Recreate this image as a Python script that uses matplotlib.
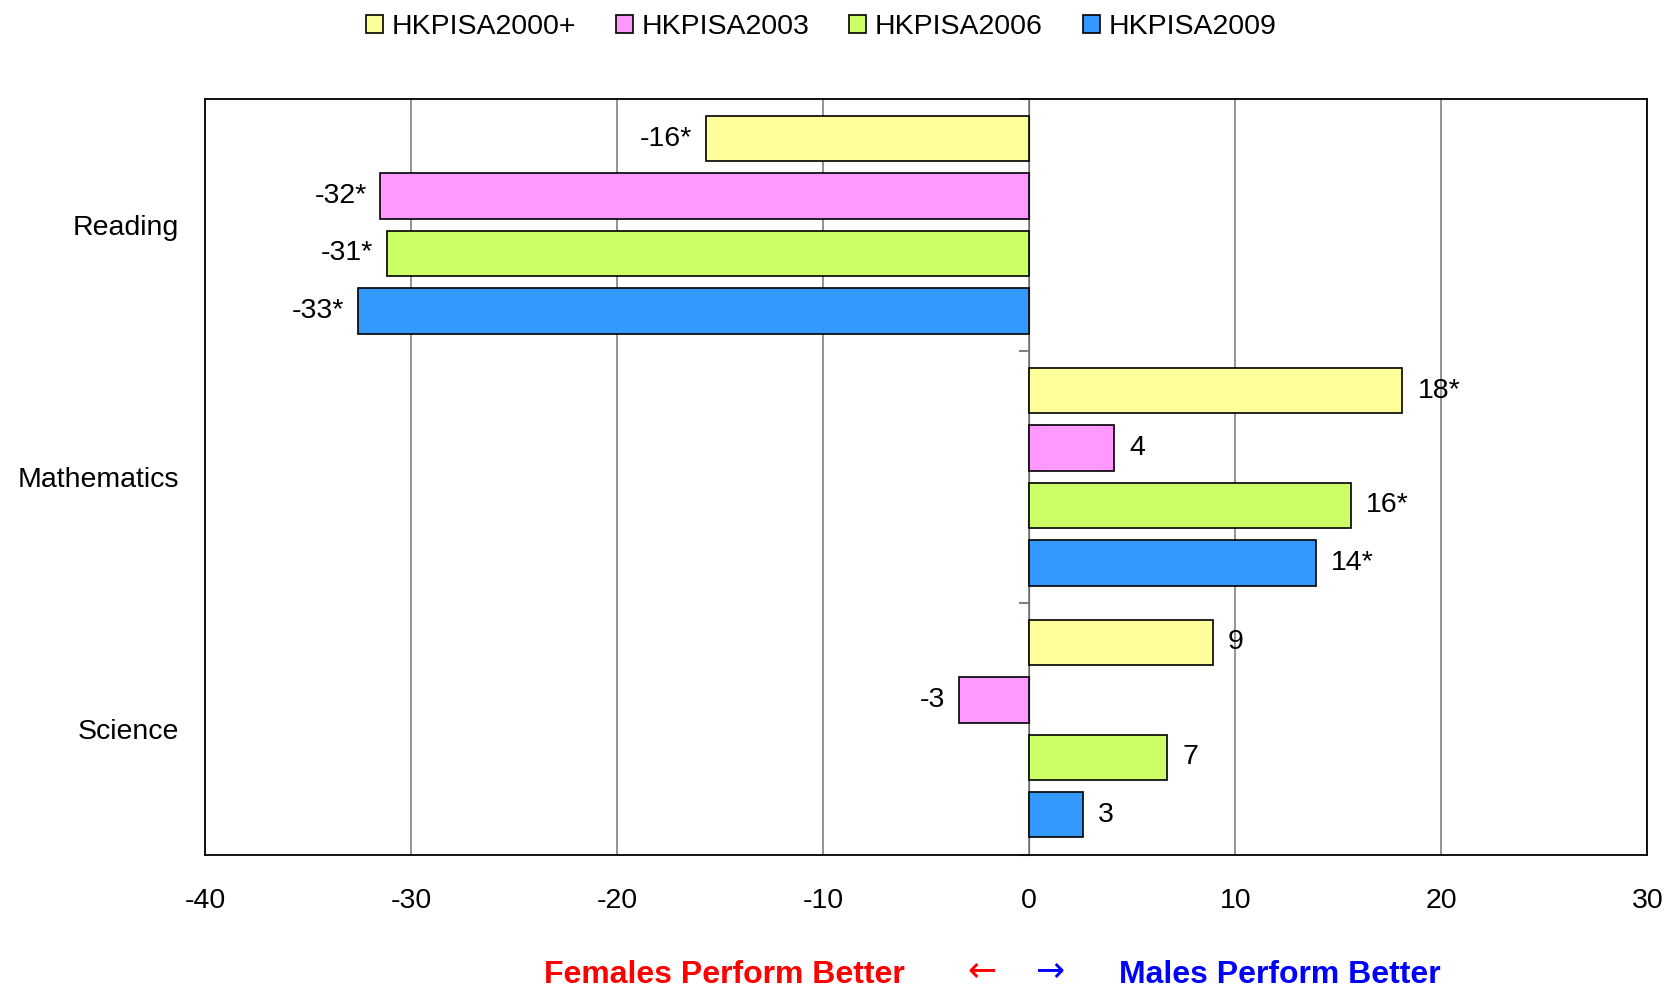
import numpy as np
import matplotlib
matplotlib.use('Agg')
import matplotlib.pyplot as plt

plt.rcParams['font.family'] = ['Liberation Sans', 'DejaVu Sans']
plt.rcParams['axes.unicode_minus'] = False

# 数据
subjects = ['Reading', 'Mathematics', 'Science']
series = ['HKPISA2000+', 'HKPISA2003', 'HKPISA2006', 'HKPISA2009']
values = {
    'HKPISA2000+': [-15.7, 18.1, 8.9],
    'HKPISA2003': [-31.5, 4.1, -3.4],
    'HKPISA2006': [-31.2, 15.6, 6.7],
    'HKPISA2009': [-32.6, 13.9, 2.6],
}
labels = {
    'HKPISA2000+': ['-16*', '18*', '9'],
    'HKPISA2003': ['-32*', '4', '-3'],
    'HKPISA2006': ['-31*', '16*', '7'],
    'HKPISA2009': ['-33*', '14*', '3'],
}
colors = ['#FFFF99', '#FF99FF', '#CCFF66', '#3399FF']
xlim = (-40, 30)
xticks = [-40, -30, -20, -10, 0, 10, 20, 30]

fs = 20.5
fig = plt.figure(figsize=(16.69, 9.88), dpi=100)
ax = fig.add_axes([0.123, 0.135, 0.864, 0.765])

y = np.arange(len(subjects))
step = 0.228
h = 0.18
for j, s in enumerate(series):
    pos = y + (j - 1.5) * step
    bars = ax.barh(pos, values[s], height=h, color=colors[j], edgecolor='black',
                   linewidth=1.2, label=s, zorder=3)
    for b, v, t in zip(bars, values[s], labels[s]):
        ax.annotate(t, (v, b.get_y() + b.get_height() / 2),
                    xytext=(11 if v >= 0 else -10, 0), textcoords='offset points',
                    ha='left' if v >= 0 else 'right', va='center', fontsize=fs)

ax.set_xlim(*xlim)
ax.set_ylim(len(subjects) - 0.5, -0.5)
ax.set_xticks(xticks)
ax.tick_params(axis='x', length=0, pad=24, labelsize=fs)
ax.set_yticks(y)
ax.set_yticklabels(subjects)
ax.tick_params(axis='y', length=0, pad=19, labelsize=fs)
ax.grid(axis='x', color='#808080', linewidth=1.2, zorder=0)
for sp in ax.spines.values():
    sp.set_color('black')
    sp.set_linewidth(1.3)

# 零线与类别分隔刻度
sec = ax.secondary_yaxis((0 - xlim[0]) / (xlim[1] - xlim[0]))
sec.set_yticks(np.arange(len(subjects) + 1) - 0.5)
sec.set_yticklabels([])
sec.spines['left'].set_color('#808080')
sec.spines['left'].set_linewidth(1.5)
sec.tick_params(axis='y', color='#808080', length=7, width=1.5, direction='in')

ax.legend(loc='center', bbox_to_anchor=(0.492, 0.973), bbox_transform=fig.transFigure,
          ncol=4, frameon=False, fontsize=fs, handlelength=0.6, handleheight=0.6,
          handletextpad=0.3, columnspacing=1.4, borderpad=0)

fig.text(0.434, 0.013, 'Females Perform Better', color='red', fontsize=23,
         fontweight='bold', ha='center', va='center')
fig.text(0.588, 0.018, '\u2190', color='red', fontsize=25,
         ha='center', va='center', family=['DejaVu Sans'])
fig.text(0.629, 0.018, '\u2192', color='blue', fontsize=25,
         ha='center', va='center', family=['DejaVu Sans'])
fig.text(0.767, 0.013, 'Males Perform Better', color='blue', fontsize=23,
         fontweight='bold', ha='center', va='center')

fig.savefig('out.png', dpi=100)
